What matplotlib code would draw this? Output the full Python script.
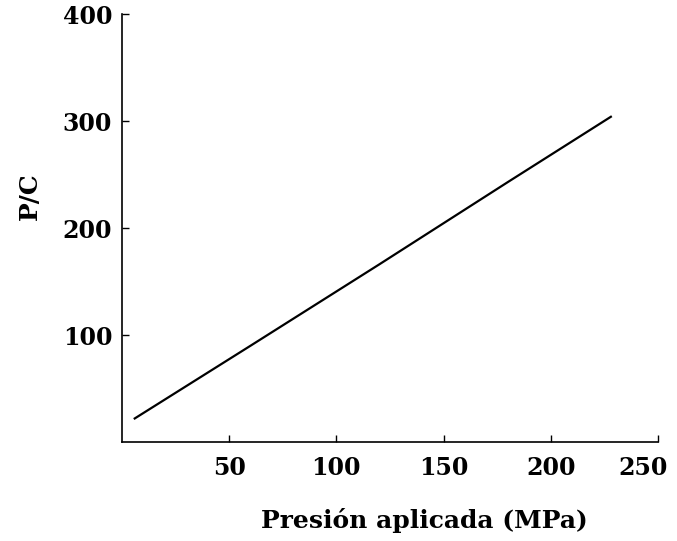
import matplotlib.pyplot as plt
import matplotlib.transforms as mtransforms

# datos
presion = [6, 60, 120, 180, 228]
pc = [22, 90, 166, 243, 304]

x_ticks = [50, 100, 150, 200, 250]
y_ticks = [100, 200, 300, 400]

plt.rcParams['font.family'] = 'DejaVu Serif'

fig = plt.figure(figsize=(6.77, 5.41), dpi=100)
ax = fig.add_axes([0.180, 0.183, 0.792, 0.791])

ax.plot(presion, pc, color='black', linewidth=1.6)

ax.set_xlim(0, 250)
ax.set_ylim(0, 400)
ax.set_xticks(x_ticks)
ax.set_yticks(y_ticks)
ax.tick_params(direction='in', length=5, width=1, labelsize=17)
ax.tick_params(axis='x', pad=10)
ax.tick_params(axis='y', pad=7)
for lab in ax.get_xticklabels() + ax.get_yticklabels():
    lab.set_fontweight('semibold')

# la ultima etiqueta se corre a la izquierda para que quepa
last = ax.get_xticklabels()[-1]
last.set_horizontalalignment('right')
last.set_transform(last.get_transform() +
                   mtransforms.ScaledTranslation(10 / 100, 0, fig.dpi_scale_trans))

ax.spines['top'].set_visible(False)
ax.spines['right'].set_visible(False)
for s in ['left', 'bottom']:
    ax.spines[s].set_linewidth(1.2)

ax.set_xlabel('Presión aplicada (MPa)', fontsize=18, fontweight='semibold')
ax.set_ylabel('P/C', fontsize=18, fontweight='semibold')
ax.xaxis.set_label_coords(0.565, -0.155)
ax.yaxis.set_label_coords(-0.15, 0.575)

plt.savefig('out.png', dpi=100)
